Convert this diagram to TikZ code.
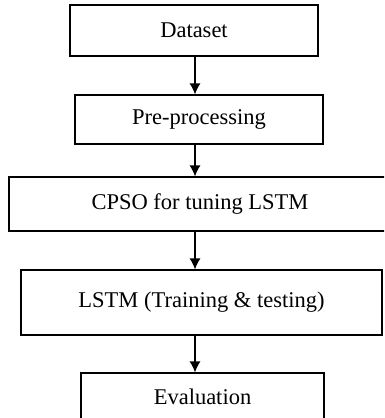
\documentclass[tikz,border=0pt]{standalone}
\usepackage{fontspec}
\setmainfont{Liberation Serif}
\usetikzlibrary{arrows.meta}

\begin{document}
\begin{tikzpicture}[
	  x=1pt, y=-1pt,
	  font=\fontsize{22.5}{26}\selectfont,
	  stage/.style={draw, line width=1.2pt, inner sep=0pt},
	  flow/.style={-{Latex[length=11pt,width=11pt]}, line width=1.2pt},
	]
	\clip (0,0) rectangle (384,418);
	\coordinate (spine) at (195,0);

	\node [stage, minimum width=248, minimum height=51] (data) at (194,30.5) {Dataset};
	\node [stage, minimum width=248, minimum height=49] (prep) at (199,119.5) {Pre-processing};
	\node [stage, minimum width=382, minimum height=54] (cpso) at (200,204) {CPSO for tuning LSTM};
	\node [stage, minimum width=361, minimum height=65] (lstm) at (201.5,302.5) {LSTM (Training \& testing)};
	\node [stage, minimum width=243, minimum height=48] (eval) at (202.5,397) {Evaluation};

	\draw [flow] (data.south -| spine) -- (prep.north -| spine);
	\draw [flow] (prep.south -| spine) -- (cpso.north -| spine);
	\draw [flow] (cpso.south -| spine) -- (lstm.north -| spine);
	\draw [flow] (lstm.south -| spine) -- (eval.north -| spine);
	\end{tikzpicture}
\end{document}
